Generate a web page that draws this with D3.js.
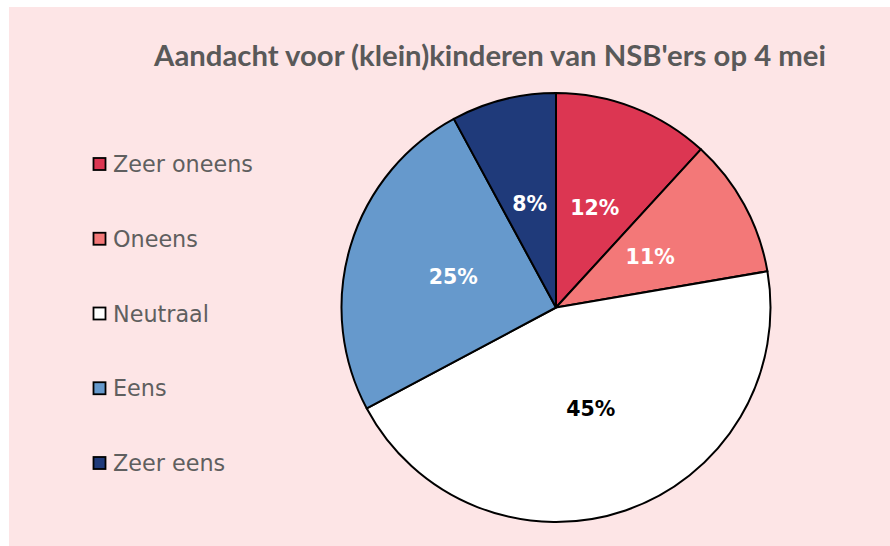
<!DOCTYPE html>
<html><head><meta charset="utf-8">
<script src="https://cdn.jsdelivr.net/npm/d3@7"></script>
<style>html,body{margin:0;padding:0;background:#fff;}svg{display:block;}</style>
</head><body>
<svg id="c" width="890" height="546"></svg>
<script>
const title = "Aandacht voor (klein)kinderen van NSB'ers op 4 mei";
const categories = ["Zeer oneens", "Oneens", "Neutraal", "Eens", "Zeer eens"];
const values = [11.8, 10.5, 44.9, 24.9, 7.9];
const colors = ["#DC3652", "#F37878", "#FFFFFF", "#6699CC", "#1F3A7A"];
const labelColors = ["#FFFFFF", "#FFFFFF", "#000000", "#FFFFFF", "#FFFFFF"];

const svg = d3.select("#c");
const font = "'Century Gothic', 'Lato', 'DejaVu Sans', sans-serif";
const font2 = "'Century Gothic', 'DejaVu Sans', sans-serif";
svg.append("rect").attr("x", 9).attr("y", 7).attr("width", 881).attr("height", 539).attr("fill", "#FDE5E6");

const t = svg.append("text").attr("x", 490).attr("y", 66).attr("text-anchor", "middle")
  .attr("font-family", font).attr("font-weight", "bold").attr("font-size", 23)
  .attr("fill", "#595959").text(title);
const tw = t.node().getComputedTextLength();
t.attr("font-size", 23 * 672 / tw);

const cx = 556, cy = 307.5, r = 214.5;
const data = categories.map((c, i) => ({ cat: c, value: values[i], color: colors[i], lc: labelColors[i] }));
const pie = d3.pie().value(d => d.value).sort(null);
const arc = d3.arc().innerRadius(0).outerRadius(r);
const g = svg.append("g").attr("transform", `translate(${cx},${cy})`);
const arcs = pie(data);
g.selectAll("path").data(arcs).join("path").attr("d", arc)
  .attr("fill", d => d.data.color).attr("stroke", "#000").attr("stroke-width", 2).attr("stroke-linejoin", "round");
const total = d3.sum(values);
g.selectAll("text").data(arcs).join("text")
  .attr("transform", d => `translate(${arc.centroid(d)})`)
  .attr("text-anchor", "middle").attr("dy", "0.36em")
  .attr("font-family", font2).attr("font-weight", "bold").attr("font-size", 20.5)
  .attr("fill", d => d.data.lc)
  .text(d => Math.round(d.data.value / total * 100) + "%");

const legY = d3.scalePoint().domain(categories).range([164, 463]);
const lg = svg.append("g").selectAll("g").data(data).join("g")
  .attr("transform", d => `translate(93,${legY(d.cat)})`);
lg.append("rect").attr("x", 0.5).attr("y", -6).attr("width", 12).attr("height", 12)
  .attr("fill", d => d.color).attr("stroke", "#000").attr("stroke-width", 1.8);
const lt = lg.append("text").attr("x", 20).attr("y", 0).attr("dy", "0.36em")
  .attr("font-family", font2).attr("font-size", 20).attr("fill", "#5f5f5f")
  .text(d => d.cat);
const lw = lt.nodes()[0].getComputedTextLength();
lt.attr("font-size", 20 * 140 / lw);
</script>
</body></html>
